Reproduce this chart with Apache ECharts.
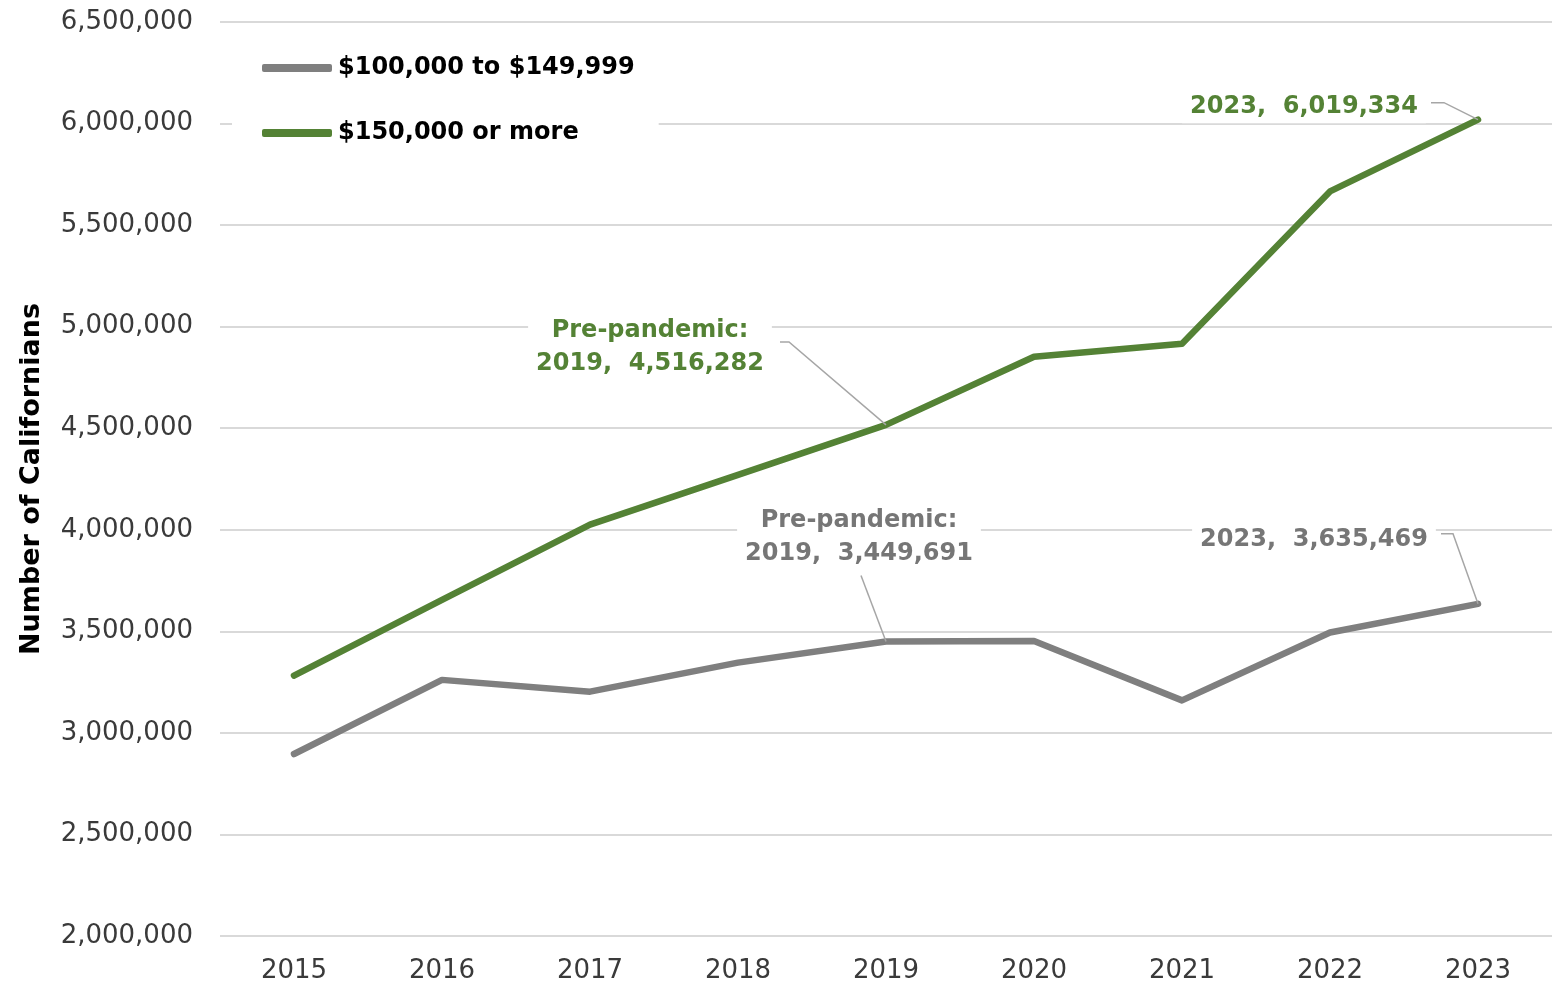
<!DOCTYPE html>
<html>
<head>
<meta charset="utf-8">
<title>Californians by household income</title>
<script src="https://cdn.jsdelivr.net/npm/echarts@6/dist/echarts.min.js"></script>
<style>
  html, body { margin: 0; padding: 0; background: #ffffff; }
  #chart { width: 1565px; height: 985px; }
</style>
</head>
<body>
<div id="chart"></div>
<script>
// Years on the x axis
const years = ['2015', '2016', '2017', '2018', '2019', '2020', '2021', '2022', '2023'];

// Number of Californians in each household income band
const seriesNames = ['$100,000 to $149,999', '$150,000 or more'];
const income100to150 = [2896000, 3261000, 3203000, 3346000, 3449691, 3452000, 3160000, 3494000, 3635469];
const income150plus  = [3282000, 3655000, 4025000, 4270000, 4516282, 4852000, 4916000, 5666000, 6019334];

// Y axis range and step
const yMin = 2000000;
const yMax = 6500000;
const yStep = 500000;

const GREEN = '#548235';
const GRAY = '#7f7f7f';
const FONT = 'DejaVu Sans';

const fmt = v => v.toLocaleString('en-US');

const chart = echarts.init(document.getElementById('chart'), null, { renderer: 'canvas' });

chart.setOption({
  backgroundColor: '#ffffff',
  animation: false,
  textStyle: { fontFamily: FONT },
  grid: { left: 220, right: 13, top: 22, bottom: 49, containLabel: false },
  legend: {
    orient: 'vertical',
    left: 232,
    top: 46,
    padding: [10, 24, 10, 30],
    backgroundColor: '#ffffff',
    itemWidth: 70,
    itemHeight: 8,
    itemGap: 41,
    icon: 'roundRect',
    textStyle: { fontFamily: FONT, fontSize: 24, fontWeight: 'bold', color: '#000000', padding: [0, 0, 0, 1] },
    data: seriesNames
  },
  xAxis: {
    type: 'category',
    data: years,
    boundaryGap: true,
    axisLine: { show: false },
    axisTick: { show: false },
    axisLabel: { fontFamily: FONT, fontSize: 26, color: '#3a3a3a', margin: 22 }
  },
  yAxis: {
    type: 'value',
    min: yMin,
    max: yMax,
    interval: yStep,
    name: 'Number of Californians',
    nameLocation: 'middle',
    nameGap: 175,
    nameRotate: 90,
    nameTextStyle: { fontFamily: FONT, fontSize: 27, fontWeight: 'bold', color: '#000000' },
    axisLine: { show: false },
    axisTick: { show: false },
    axisLabel: { fontFamily: FONT, fontSize: 26, color: '#3a3a3a', margin: 27, formatter: v => fmt(v) },
    splitLine: { lineStyle: { color: '#d9d9d9', width: 2 } }
  },
  series: [
    {
      name: seriesNames[0],
      type: 'line',
      data: income100to150,
      symbol: 'none',
      lineStyle: { color: GRAY, width: 6.5, cap: 'round', join: 'round' },
      itemStyle: { color: GRAY },
      z: 3
    },
    {
      name: seriesNames[1],
      type: 'line',
      data: income150plus,
      symbol: 'none',
      lineStyle: { color: GREEN, width: 6.5, cap: 'round', join: 'round' },
      itemStyle: { color: GREEN },
      z: 4
    }
  ]
});

// Callouts: text block offset from its point, plus a leader line back to the point
const callouts = [
  { series: 1, idx: 4, color: GREEN, prefix: 'Pre-pandemic:\n', dx: -236, dy: -78,
    leader: [[-106, -83], [-97, -83]] },
  { series: 0, idx: 4, color: '#767676', prefix: 'Pre-pandemic:\n', dx: -27, dy: -104,
    leader: [[-25, -66]] },
  { series: 1, idx: 8, color: GREEN, prefix: '', dx: -174, dy: -13,
    leader: [[-47, -17], [-34, -17]] },
  { series: 0, idx: 8, color: '#767676', prefix: '', dx: -164, dy: -64,
    leader: [[-37, -70], [-25, -70]] }
];
const seriesData = [income100to150, income150plus];

const graphics = [];
callouts.forEach(c => {
  const value = seriesData[c.series][c.idx];
  const p = chart.convertToPixel({ seriesIndex: c.series }, [c.idx, value]);
  const pts = c.leader.map(o => [p[0] + o[0], p[1] + o[1]]);
  pts.push([p[0], p[1]]);
  graphics.push({
    type: 'polyline',
    shape: { points: pts },
    style: { stroke: '#a6a6a6', lineWidth: 1.5, fill: null },
    z: 50
  });
  graphics.push({
    type: 'text',
    x: p[0] + c.dx,
    y: p[1] + c.dy,
    style: {
      text: c.prefix + years[c.idx] + ',  ' + fmt(value),
      fontFamily: FONT,
      fontSize: 24,
      fontWeight: 'bold',
      fill: c.color,
      align: 'center',
      verticalAlign: 'middle',
      lineHeight: 33,
      backgroundColor: '#ffffff',
      padding: [0, 8]
    },
    z: 60
  });
});
chart.setOption({ graphic: graphics });
</script>
</body>
</html>
